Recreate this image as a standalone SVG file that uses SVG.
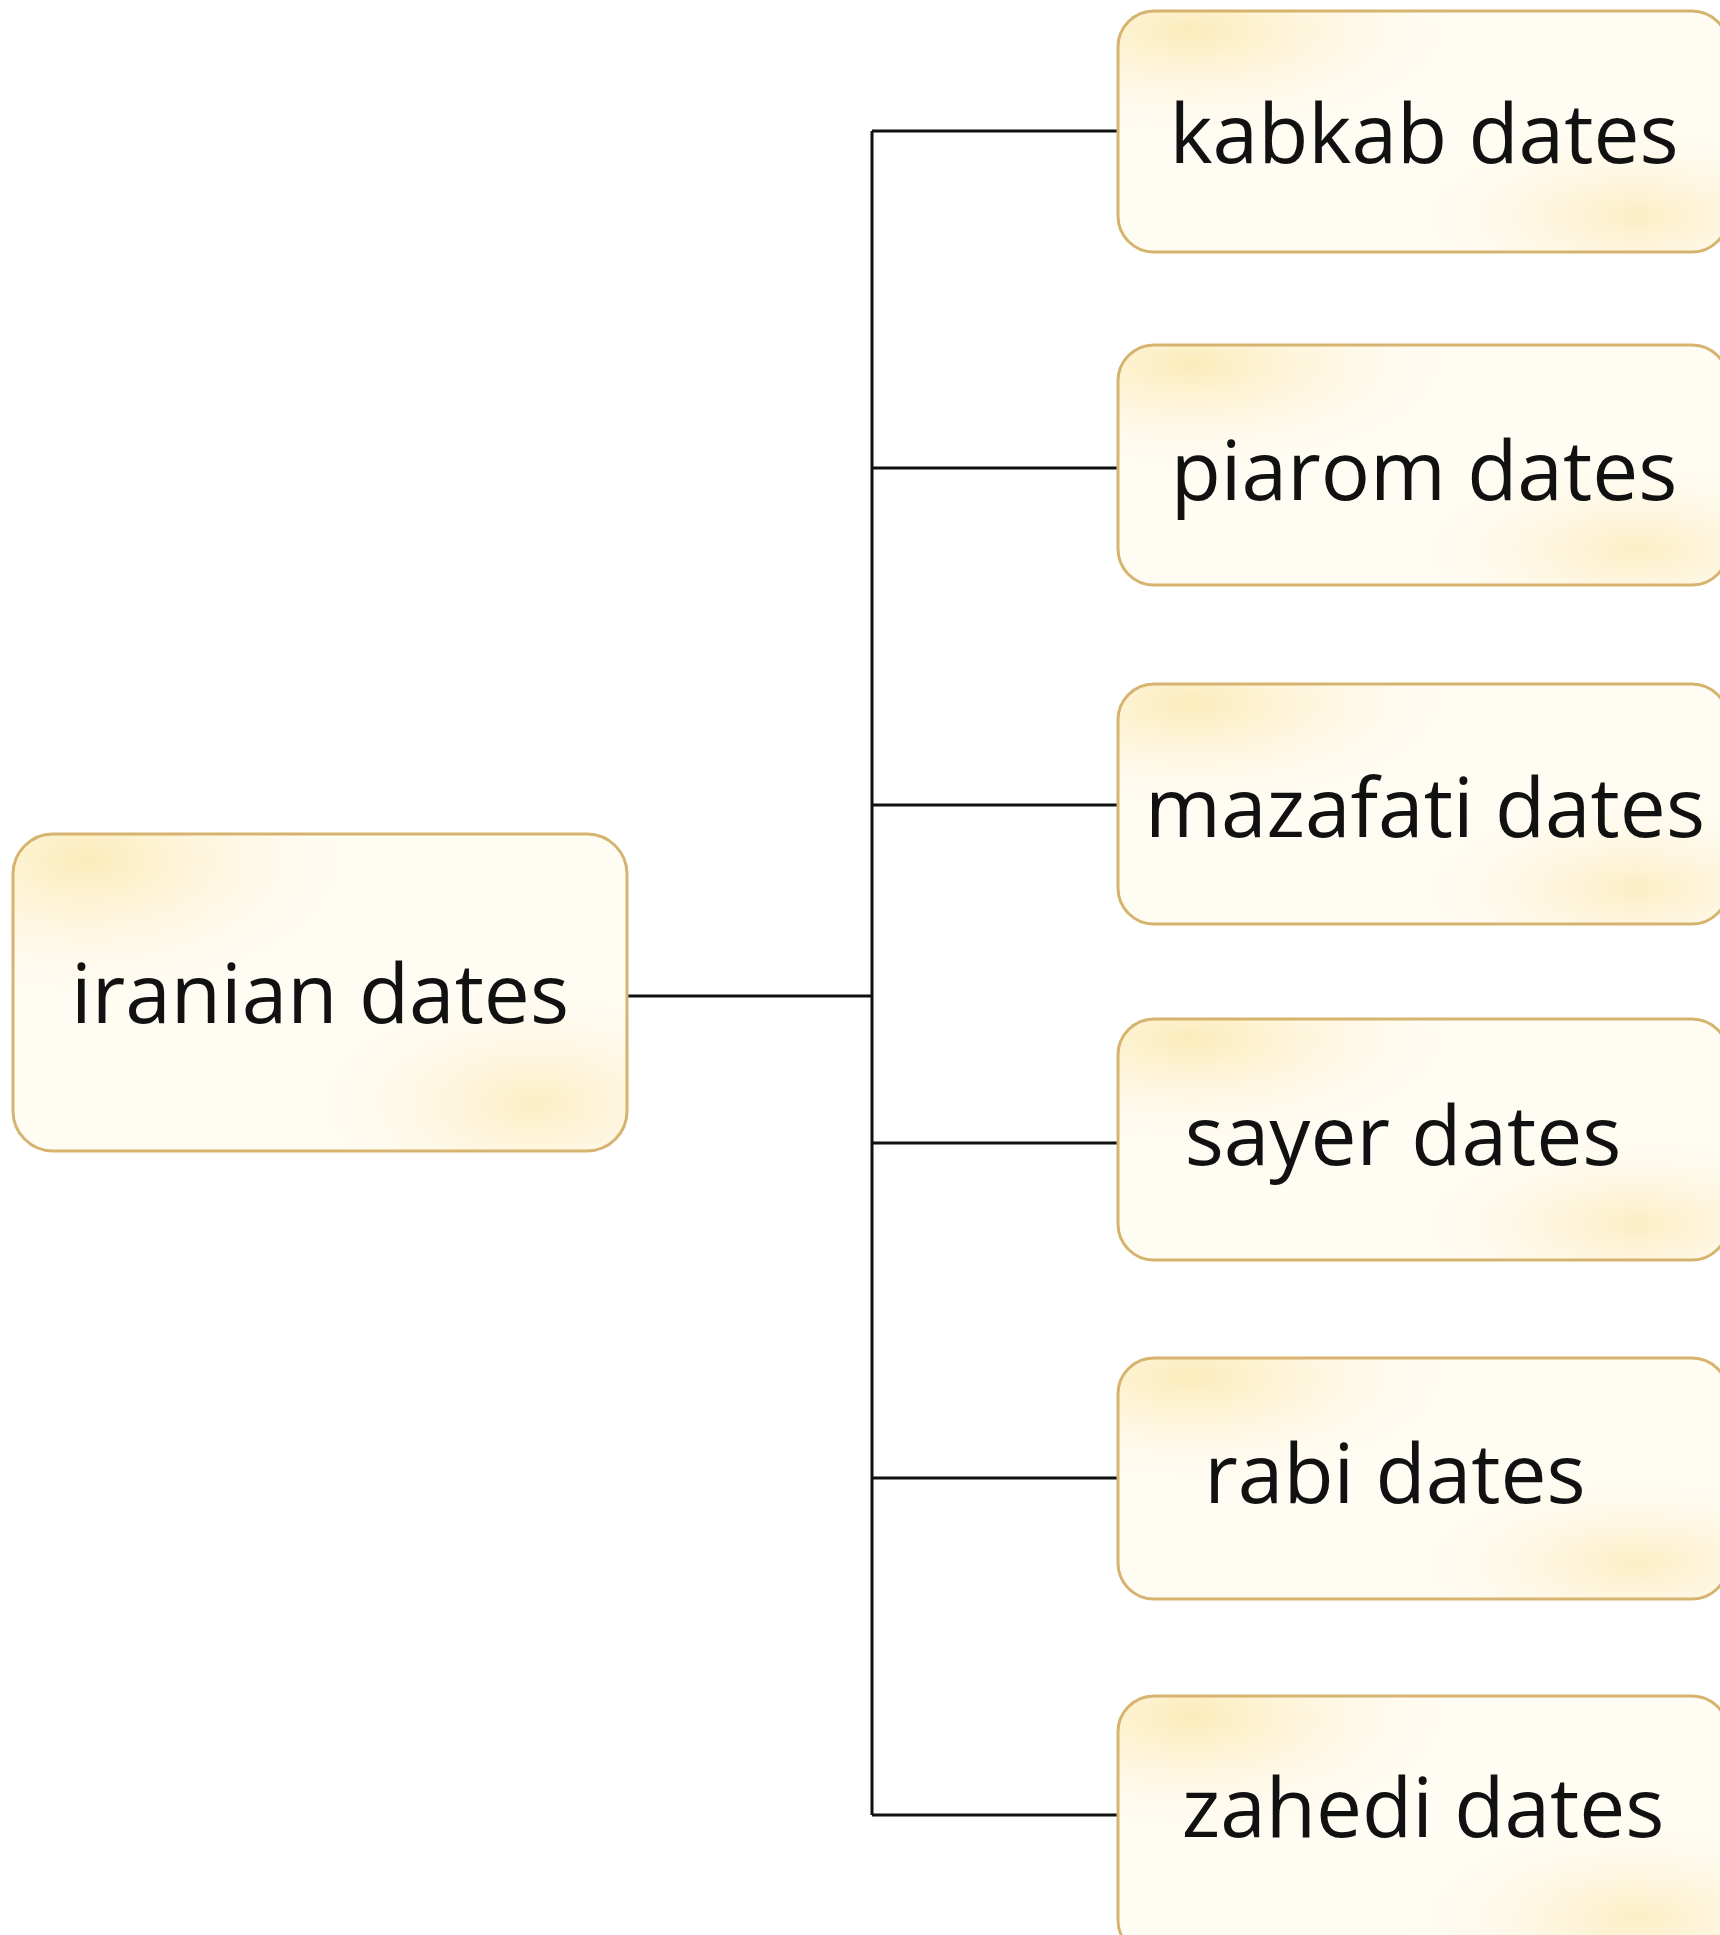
<svg xmlns="http://www.w3.org/2000/svg" width="1720" height="1935" viewBox="0 0 1720 1935">
<style>
.box{stroke:#d6b36e;stroke-width:3}
.lbl{font-family:"Open Sans","Noto Sans","Liberation Sans",sans-serif;font-size:82px;fill:#111;text-anchor:middle}
.conn{stroke:#111;stroke-width:3;fill:none}
</style>
<defs>
<radialGradient id="tl" cx="0.12" cy="0.08" r="0.5">
<stop offset="0" stop-color="#fbe6a6" stop-opacity="0.75"/>
<stop offset="1" stop-color="#fffaf0" stop-opacity="0"/>
</radialGradient>
<radialGradient id="br" cx="0.85" cy="0.85" r="0.45">
<stop offset="0" stop-color="#fae4a4" stop-opacity="0.6"/>
<stop offset="1" stop-color="#fffdf6" stop-opacity="0"/>
</radialGradient>
</defs>
<rect width="1720" height="1935" fill="#ffffff"/>
<g id="connectors">
<line class="conn" x1="872" y1="131" x2="872" y2="1815"/>
<line class="conn" x1="627" y1="996" x2="872" y2="996"/>
<line class="conn" x1="872" y1="131" x2="1118" y2="131"/>
<line class="conn" x1="872" y1="468" x2="1118" y2="468"/>
<line class="conn" x1="872" y1="805" x2="1118" y2="805"/>
<line class="conn" x1="872" y1="1143" x2="1118" y2="1143"/>
<line class="conn" x1="872" y1="1478" x2="1118" y2="1478"/>
<line class="conn" x1="872" y1="1815" x2="1118" y2="1815"/>
</g>
<g id="iranian">
<rect x="13" y="834" width="614" height="317" rx="40" fill="#fffcf4"/>
<rect x="13" y="834" width="614" height="317" rx="40" fill="url(#tl)"/>
<rect x="13" y="834" width="614" height="317" rx="40" fill="url(#br)"/>
<rect class="box" x="13" y="834" width="614" height="317" rx="40" fill="none"/>
<text class="lbl" x="320" y="1023">iranian dates</text>
</g>
<g id="kabkab">
<rect x="1118" y="11" width="610" height="241" rx="36" fill="#fffcf4"/>
<rect x="1118" y="11" width="610" height="241" rx="36" fill="url(#tl)"/>
<rect x="1118" y="11" width="610" height="241" rx="36" fill="url(#br)"/>
<rect class="box" x="1118" y="11" width="610" height="241" rx="36" fill="none"/>
<text class="lbl" x="1424" y="163">kabkab dates</text>
</g>
<g id="piarom">
<rect x="1118" y="345" width="610" height="240" rx="36" fill="#fffcf4"/>
<rect x="1118" y="345" width="610" height="240" rx="36" fill="url(#tl)"/>
<rect x="1118" y="345" width="610" height="240" rx="36" fill="url(#br)"/>
<rect class="box" x="1118" y="345" width="610" height="240" rx="36" fill="none"/>
<text class="lbl" x="1424" y="500">piarom dates</text>
</g>
<g id="mazafati">
<rect x="1118" y="684" width="610" height="240" rx="36" fill="#fffcf4"/>
<rect x="1118" y="684" width="610" height="240" rx="36" fill="url(#tl)"/>
<rect x="1118" y="684" width="610" height="240" rx="36" fill="url(#br)"/>
<rect class="box" x="1118" y="684" width="610" height="240" rx="36" fill="none"/>
<text class="lbl" x="1425" y="837">mazafati dates</text>
</g>
<g id="sayer">
<rect x="1118" y="1019" width="610" height="241" rx="36" fill="#fffcf4"/>
<rect x="1118" y="1019" width="610" height="241" rx="36" fill="url(#tl)"/>
<rect x="1118" y="1019" width="610" height="241" rx="36" fill="url(#br)"/>
<rect class="box" x="1118" y="1019" width="610" height="241" rx="36" fill="none"/>
<text class="lbl" x="1403" y="1165">sayer dates</text>
</g>
<g id="rabi">
<rect x="1118" y="1358" width="610" height="241" rx="36" fill="#fffcf4"/>
<rect x="1118" y="1358" width="610" height="241" rx="36" fill="url(#tl)"/>
<rect x="1118" y="1358" width="610" height="241" rx="36" fill="url(#br)"/>
<rect class="box" x="1118" y="1358" width="610" height="241" rx="36" fill="none"/>
<text class="lbl" x="1395" y="1503">rabi dates</text>
</g>
<g id="zahedi">
<rect x="1118" y="1696" width="610" height="260" rx="36" fill="#fffcf4"/>
<rect x="1118" y="1696" width="610" height="260" rx="36" fill="url(#tl)"/>
<rect x="1118" y="1696" width="610" height="260" rx="36" fill="url(#br)"/>
<rect class="box" x="1118" y="1696" width="610" height="260" rx="36" fill="none"/>
<text class="lbl" x="1423" y="1837">zahedi dates</text>
</g>
</svg>
